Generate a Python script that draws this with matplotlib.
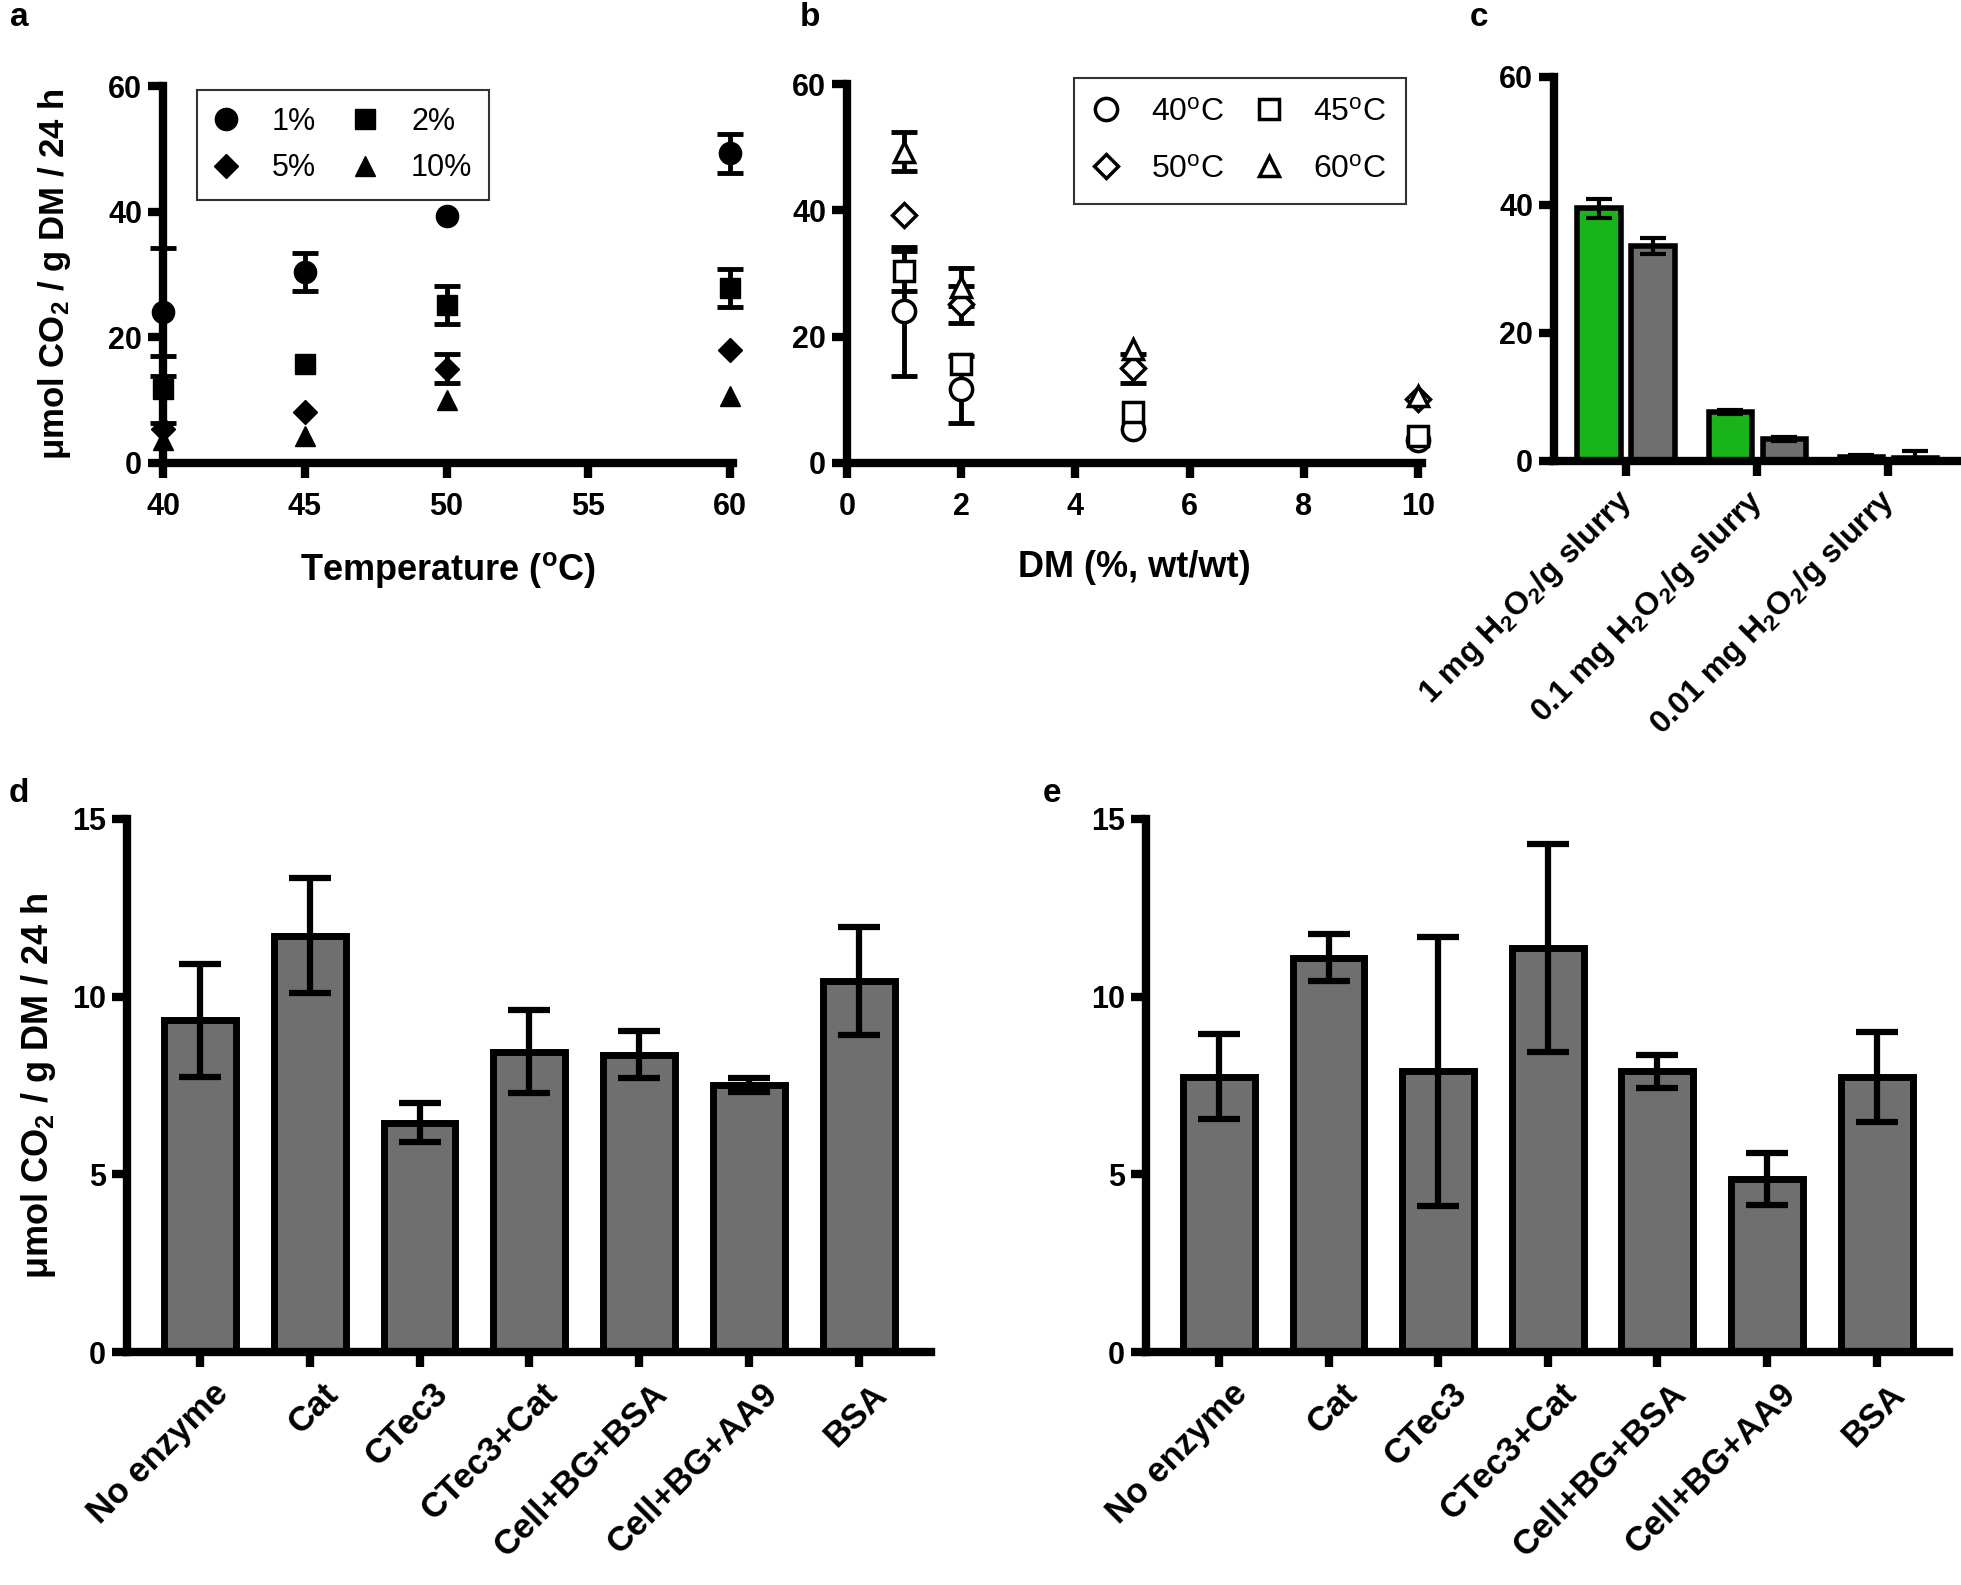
import matplotlib
matplotlib.use("Agg")
import matplotlib.pyplot as plt
import matplotlib.transforms as mtransforms
import numpy as np
from matplotlib.lines import Line2D

plt.rcParams["font.family"] = ["Liberation Sans", "DejaVu Sans"]
plt.rcParams["font.weight"] = "bold"
plt.rcParams["axes.labelweight"] = "bold"
plt.rcParams["mathtext.default"] = "regular"

# ---- data -----------------------------------------------------------------
temps = [40, 45, 50, 60]
dm_levels = [1, 2, 5, 10]
dm_labels = ["1%", "2%", "5%", "10%"]
temp_labels = ["40$^{o}$C", "45$^{o}$C", "50$^{o}$C", "60$^{o}$C"]

# rows: DM level, columns: temperature
co2 = [
    [24.0, 30.4, 39.3, 49.3],
    [11.7, 15.7, 25.1, 27.8],
    [5.4, 8.1, 15.0, 18.0],
    [3.7, 4.3, 10.1, 10.6],
]
# 0 = error bar hidden behind the symbol
co2_err = [
    [10.2, 3.1, 0.0, 3.1],
    [5.3, 0.0, 3.0, 3.0],
    [0.0, 0.0, 2.3, 0.0],
    [0.0, 0.0, 0.0, 0.0],
]

h2o2_labels = ["1 mg H$_2$O$_2$/g slurry", "0.1 mg H$_2$O$_2$/g slurry",
               "0.01 mg H$_2$O$_2$/g slurry"]
green_vals = [39.5, 7.6, 0.7]
green_err = [1.5, 0.3, 0.3]
grey_vals = [33.6, 3.5, 0.4]
grey_err = [1.25, 0.3, 1.2]

enzymes = ["No enzyme", "Cat", "CTec3", "CTec3+Cat", "Cell+BG+BSA",
           "Cell+BG+AA9", "BSA"]
d_vals = [9.33, 11.72, 6.45, 8.45, 8.37, 7.52, 10.45]
d_err = [1.58, 1.62, 0.55, 1.17, 0.65, 0.2, 1.52]
e_vals = [7.75, 11.09, 7.9, 11.37, 7.9, 4.87, 7.74]
e_err = [1.2, 0.66, 3.78, 2.93, 0.47, 0.72, 1.26]

markers = ["o", "s", "D", "^"]
msizes = [16, 15, 12, 15]
GREEN = "#19B419"
GREY = "#6F6F6F"
TICK_FS = 22
LABEL_FS = 26
YLABEL = "\u03bcmol CO$_2$ / g DM / 24 h"
W, H = 1961, 1585


def style(ax):
    for s in ["top", "right"]:
        ax.spines[s].set_visible(False)
    for s in ["left", "bottom"]:
        ax.spines[s].set_linewidth(6)
        ax.spines[s].set_capstyle("projecting")
    ax.tick_params(width=6, length=11, labelsize=TICK_FS)
    ax.tick_params(axis="y", pad=4)
    ax.tick_params(axis="x", pad=10)


def scatter_err(ax, x, y, err, marker, ms, open_marker):
    x, y, err = np.asarray(x), np.asarray(y), np.asarray(err)
    show = err > 0
    if show.any():
        ax.errorbar(x[show], y[show], yerr=err[show], fmt="none",
                    ecolor="black", capsize=9.5, elinewidth=3.5,
                    capthick=3.5, clip_on=False, zorder=3)
    ax.plot(x, y, ls="none", marker=marker, ms=ms, color="black",
            mfc="white" if open_marker else "black", mec="black",
            mew=2.5 if open_marker else 1, clip_on=False, zorder=4)


def shift_labels(ax, dx, dy):
    off = mtransforms.ScaledTranslation(dx / 100, dy / 100,
                                        ax.figure.dpi_scale_trans)
    for lab in ax.get_xticklabels():
        lab.set_transform(lab.get_transform() + off)


fig = plt.figure(figsize=(W / 100, H / 100), dpi=100)

# ---- a ---------------------------------------------------------------------
ax = fig.add_axes([163 / W, 1 - 463 / H, 570 / W, 377 / H])
style(ax)
for i in range(4):
    scatter_err(ax, temps, co2[i], co2_err[i], markers[i], msizes[i], False)
ax.set_xlim(40, 60.1)
ax.set_ylim(0, 60)
ax.set_xticks([40, 45, 50, 55, 60])
ax.set_yticks([0, 20, 40, 60])
ax.set_xlabel("Temperature ($^{o}$C)", fontsize=LABEL_FS, labelpad=20)
ax.set_ylabel(YLABEL, fontsize=25, labelpad=25)
handles = [Line2D([], [], marker=markers[i], ms=msizes[i], color="black",
                  ls="none") for i in [0, 2, 1, 3]]
labels = [dm_labels[i] for i in [0, 2, 1, 3]]
leg = ax.legend(handles, labels, ncol=2, loc="upper left",
                bbox_to_anchor=(0.06, 0.99), borderaxespad=0, fancybox=False,
                edgecolor="black", prop={"size": 22, "weight": "normal"},
                handlelength=0.8, handletextpad=1.1, columnspacing=1.2,
                labelspacing=0.55, borderpad=0.55)
leg.get_frame().set_linewidth(1.5)

# ---- b ---------------------------------------------------------------------
ax = fig.add_axes([847 / W, 1 - 463 / H, 575 / W, 379 / H])
style(ax)
co2_arr = np.array(co2)
err_arr = np.array(co2_err)
for j in range(4):
    scatter_err(ax, dm_levels, co2_arr[:, j], err_arr[:, j], markers[j],
                msizes[j], True)
ax.set_xlim(0, 10.07)
ax.set_ylim(0, 60)
ax.set_xticks([0, 2, 4, 6, 8, 10])
ax.set_yticks([0, 20, 40, 60])
ax.set_xlabel("DM (%, wt/wt)", fontsize=LABEL_FS, labelpad=20)
handles = [Line2D([], [], marker=markers[i], ms=msizes[i], color="black",
                  mfc="white", mew=2.5, ls="none") for i in [0, 2, 1, 3]]
labels = [temp_labels[i] for i in [0, 2, 1, 3]]
leg = ax.legend(handles, labels, ncol=2, loc="upper left",
                bbox_to_anchor=(0.395, 1.015), borderaxespad=0, fancybox=False,
                edgecolor="black", prop={"size": 23, "weight": "normal"},
                handlelength=0.8, handletextpad=1.0, columnspacing=1.0,
                labelspacing=0.85, borderpad=0.6)
leg.get_frame().set_linewidth(1.5)

# ---- c ---------------------------------------------------------------------
ax = fig.add_axes([1554 / W, 1 - 461 / H, 405 / W, 384 / H])
style(ax)
x = np.arange(len(h2o2_labels))
ax.bar(x - 0.206, green_vals, 0.33, color=GREEN, edgecolor="black", lw=4,
       yerr=green_err, capsize=9.5,
       error_kw=dict(elinewidth=3, capthick=3, ecolor="black"), zorder=2)
ax.bar(x + 0.206, grey_vals, 0.33, color=GREY, edgecolor="black", lw=4,
       yerr=grey_err, capsize=9.5,
       error_kw=dict(elinewidth=3, capthick=3, ecolor="black"), zorder=2)
ax.set_xlim(-0.55, 2.54)
ax.set_ylim(0, 60)
ax.set_yticks([0, 20, 40, 60])
ax.set_xticks(x)
ax.set_xticklabels(h2o2_labels, rotation=45, ha="right",
                   rotation_mode="anchor", fontsize=23)
shift_labels(ax, -10, 6)

# ---- d, e ------------------------------------------------------------------
for left, right, vals, errs, ylab in [(127, 931, d_vals, d_err, True),
                                      (1146, 1949, e_vals, e_err, False)]:
    ax = fig.add_axes([left / W, 1 - 1352 / H, (right - left) / W, 533 / H])
    style(ax)
    x = np.arange(len(enzymes))
    ax.bar(x, vals, 0.655, color=GREY, edgecolor="black", lw=5,
           yerr=errs, capsize=15,
           error_kw=dict(elinewidth=4.5, capthick=4.5, ecolor="black"),
           zorder=2)
    ax.set_xlim(-0.665, 6.66)
    ax.set_ylim(0, 15)
    ax.set_yticks([0, 5, 10, 15])
    ax.set_xticks(x)
    ax.set_xticklabels(enzymes, rotation=45, ha="right",
                       rotation_mode="anchor", fontsize=25)
    shift_labels(ax, 12, 4)
    if ylab:
        ax.set_ylabel(YLABEL, fontsize=LABEL_FS, labelpad=10)

# ---- panel letters -----------------------------------------------------------
for letter, xp, yp in [("a", 19, 18), ("b", 810, 18), ("c", 1479, 18),
                       ("d", 19, 794), ("e", 1052, 794)]:
    fig.text(xp / W, 1 - yp / H, letter, fontsize=24, fontweight="bold",
             ha="center", va="center")

fig.savefig("out.png", dpi=100)
